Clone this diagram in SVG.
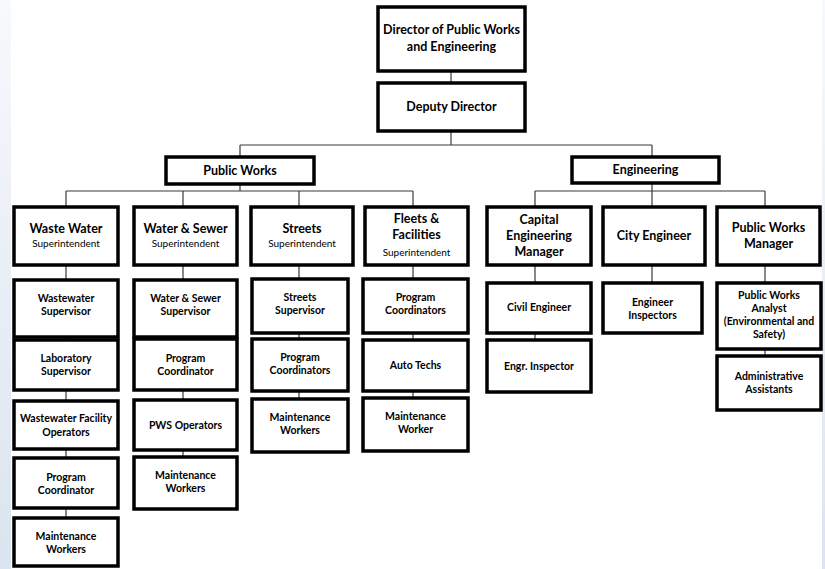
<svg xmlns="http://www.w3.org/2000/svg" width="825" height="569" viewBox="0 0 825 569">
<defs>
<linearGradient id="edge" x1="0" y1="0" x2="0" y2="1">
<stop offset="0" stop-color="#f7f9fc"/>
<stop offset="1" stop-color="#dbe4ef"/>
</linearGradient>
<style>
.b{fill:#fff;stroke:#000;stroke-width:3.5}
.c{stroke:#3a3a3a;stroke-width:1.2;fill:none}
text{font-family:Lato,"Open Sans","Liberation Sans",sans-serif;fill:#000;text-anchor:middle}
.t1{font-size:12.5px;font-weight:bold}
.t2{font-size:12.5px;font-weight:bold}
.s{font-size:10px;font-weight:normal}
.t3{font-size:10.5px;font-weight:bold}
</style>
</defs>
<rect x="0" y="0" width="825" height="569" fill="#fff"/>
<rect x="0" y="0" width="11" height="569" fill="url(#edge)"/>
<rect x="822" y="0" width="3" height="569" fill="url(#edge)"/>
<g id="connectors" class="c">
<path d="M451 71V83M451 131V145M240 145H652M240 145V157M652 145V157"/>
<path d="M240 184V191M66 191H413M66 191V207M183 191V207M299 191V207M413 191V207"/>
<path d="M652 183V191M535 191H765M535 191V207M652 191V207M765 191V207"/>
<path d="M66 265V518M183 265V457M299 265V399M413 265V398M535 265V340M652 265V283M765 265V356"/>
</g>
<g id="director"><rect class="b" x="378" y="7" width="147" height="64"/><text class="t1" x="451.5" y="34">Director of Public Works</text><text class="t1" x="451.5" y="51">and Engineering</text></g>
<g id="deputy"><rect class="b" x="378" y="83" width="147" height="48"/><text class="t1" x="451.5" y="111">Deputy Director</text></g>
<g id="public-works"><rect class="b" x="166" y="157" width="148" height="27"/><text class="t1" x="240" y="175">Public Works</text></g>
<g id="engineering"><rect class="b" x="572" y="157" width="147" height="26"/><text class="t1" x="645.5" y="174">Engineering</text></g>
<g id="waste-water"><rect class="b" x="14" y="207" width="104" height="58"/><text class="t2" x="66" y="233">Waste Water</text><text class="s" x="66" y="247">Superintendent</text></g>
<g id="water-sewer"><rect class="b" x="134" y="207" width="103" height="58"/><text class="t2" x="185.5" y="233">Water &amp; Sewer</text><text class="s" x="185.5" y="247">Superintendent</text></g>
<g id="streets"><rect class="b" x="251" y="207" width="102" height="58"/><text class="t2" x="302" y="233">Streets</text><text class="s" x="302" y="247">Superintendent</text></g>
<g id="fleets"><rect class="b" x="365" y="207" width="103" height="58"/><text class="t2" x="416.5" y="223">Fleets &amp;</text><text class="t2" x="416.5" y="239">Facilities</text><text class="s" x="416.5" y="256">Superintendent</text></g>
<g id="capital"><rect class="b" x="487" y="207" width="104" height="58"/><text class="t2" x="539" y="224">Capital</text><text class="t2" x="539" y="240">Engineering</text><text class="t2" x="539" y="256">Manager</text></g>
<g id="city-engineer"><rect class="b" x="603" y="207" width="102" height="58"/><text class="t2" x="654" y="240">City Engineer</text></g>
<g id="pw-manager"><rect class="b" x="717" y="207" width="103" height="58"/><text class="t2" x="768.5" y="232">Public Works</text><text class="t2" x="768.5" y="248">Manager</text></g>
<g id="ww-supervisor"><rect class="b" x="14" y="280" width="104" height="57"/><text class="t3" x="66" y="302">Wastewater</text><text class="t3" x="66" y="315">Supervisor</text></g>
<g id="lab-supervisor"><rect class="b" x="14" y="340" width="104" height="50"/><text class="t3" x="66" y="362">Laboratory</text><text class="t3" x="66" y="375">Supervisor</text></g>
<g id="ww-operators"><rect class="b" x="14" y="401" width="104" height="48"/><text class="t3" x="66" y="422">Wastewater Facility</text><text class="t3" x="66" y="436">Operators</text></g>
<g id="ww-program"><rect class="b" x="14" y="458" width="104" height="50"/><text class="t3" x="66" y="481">Program</text><text class="t3" x="66" y="494">Coordinator</text></g>
<g id="ww-maintenance"><rect class="b" x="14" y="518" width="104" height="48"/><text class="t3" x="66" y="540">Maintenance</text><text class="t3" x="66" y="553">Workers</text></g>
<g id="ws-supervisor"><rect class="b" x="134" y="280" width="103" height="57"/><text class="t3" x="185.5" y="302">Water &amp; Sewer</text><text class="t3" x="185.5" y="315">Supervisor</text></g>
<g id="ws-program"><rect class="b" x="134" y="339" width="103" height="51"/><text class="t3" x="185.5" y="362">Program</text><text class="t3" x="185.5" y="375">Coordinator</text></g>
<g id="pws-operators"><rect class="b" x="134" y="400" width="103" height="50"/><text class="t3" x="185.5" y="429">PWS Operators</text></g>
<g id="ws-maintenance"><rect class="b" x="134" y="457" width="103" height="52"/><text class="t3" x="185.5" y="479">Maintenance</text><text class="t3" x="185.5" y="492">Workers</text></g>
<g id="st-supervisor"><rect class="b" x="252" y="279" width="96" height="54"/><text class="t3" x="300" y="301">Streets</text><text class="t3" x="300" y="314">Supervisor</text></g>
<g id="st-program"><rect class="b" x="252" y="339" width="96" height="52"/><text class="t3" x="300" y="361">Program</text><text class="t3" x="300" y="374">Coordinators</text></g>
<g id="st-maintenance"><rect class="b" x="252" y="399" width="96" height="53"/><text class="t3" x="300" y="421">Maintenance</text><text class="t3" x="300" y="434">Workers</text></g>
<g id="ff-program"><rect class="b" x="363" y="279" width="105" height="54"/><text class="t3" x="415.5" y="301">Program</text><text class="t3" x="415.5" y="314">Coordinators</text></g>
<g id="auto-techs"><rect class="b" x="363" y="340" width="105" height="51"/><text class="t3" x="415.5" y="369">Auto Techs</text></g>
<g id="ff-maintenance"><rect class="b" x="363" y="398" width="105" height="53"/><text class="t3" x="415.5" y="420">Maintenance</text><text class="t3" x="415.5" y="433">Worker</text></g>
<g id="civil-engineer"><rect class="b" x="487" y="283" width="104" height="50"/><text class="t3" x="539" y="311">Civil Engineer</text></g>
<g id="engr-inspector"><rect class="b" x="487" y="340" width="104" height="52"/><text class="t3" x="539" y="370">Engr. Inspector</text></g>
<g id="engineer-inspectors"><rect class="b" x="603" y="283" width="99" height="50"/><text class="t3" x="652.5" y="306">Engineer</text><text class="t3" x="652.5" y="319">Inspectors</text></g>
<g id="pw-analyst"><rect class="b" x="717" y="283" width="104" height="66"/><text class="t3" x="769" y="299">Public Works</text><text class="t3" x="769" y="312">Analyst</text><text class="t3" x="769" y="325">(Environmental and</text><text class="t3" x="769" y="338">Safety)</text></g>
<g id="admin-assistants"><rect class="b" x="717" y="356" width="104" height="54"/><text class="t3" x="769" y="380">Administrative</text><text class="t3" x="769" y="393">Assistants</text></g>
</svg>
